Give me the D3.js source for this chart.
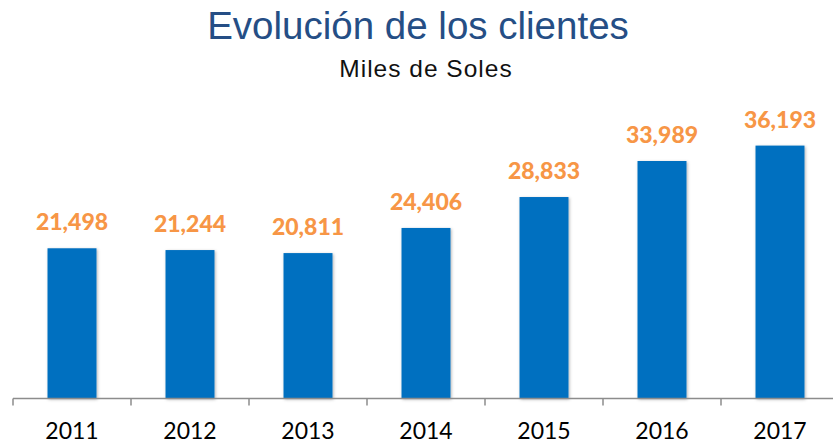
<!DOCTYPE html>
<html>
<head>
<meta charset="utf-8">
<script src="https://cdn.jsdelivr.net/npm/d3@7"></script>
<style>
  body { margin: 0; background: #fff; }
</style>
</head>
<body>
<div id="chart"></div>
<script>
// data
var years = ['2011', '2012', '2013', '2014', '2015', '2016', '2017'];
var clients = [21498, 21244, 20811, 24406, 28833, 33989, 36193];

var width = 833;
var height = 444;
var barColor = '#0070c0';
var labelColor = '#f79646';

var svg = d3.select('#chart').append('svg')
    .attr('width', width)
    .attr('height', height);

var defs = svg.append('defs');
var shadow = defs.append('filter').attr('id', 'shadow')
    .attr('x', '-20%').attr('y', '-20%').attr('width', '140%').attr('height', '140%');
shadow.append('feDropShadow')
    .attr('dx', 1).attr('dy', 1).attr('stdDeviation', 1.5)
    .attr('flood-color', '#000').attr('flood-opacity', 0.3);

// band scale runs past the right edge, as in the original
var x = d3.scaleBand()
    .domain(years)
    .range([13, 839])
    .paddingInner(0.585)
    .paddingOuter(0.2925);

var y = d3.scaleLinear()
    .domain([0, 40000])
    .range([398.5, 119]);

// title
svg.append('text')
    .attr('x', 418)
    .attr('y', 39)
    .attr('text-anchor', 'middle')
    .attr('font-family', 'Liberation Sans, Arial, sans-serif')
    .attr('font-size', '38.5px')
    .attr('fill', '#254e85')
    .text('Evolución de los clientes');

svg.append('text')
    .attr('x', 426)
    .attr('y', 77)
    .attr('text-anchor', 'middle')
    .attr('font-family', 'Liberation Sans, Arial, sans-serif')
    .attr('font-size', '24.5px')
    .attr('letter-spacing', '1px')
    .attr('fill', '#111')
    .text('Miles de Soles');

var data = years.map(function(d, i) { return {year: d, value: clients[i]}; });

svg.selectAll('.bar')
    .data(data)
    .enter()
    .append('rect')
    .attr('class', 'bar')
    .attr('x', function(d) { return x(d.year); })
    .attr('y', function(d) { return y(d.value); })
    .attr('width', x.bandwidth())
    .attr('height', function(d) { return y(0) - y(d.value); })
    .attr('fill', barColor)
    .attr('filter', 'url(#shadow)');

svg.selectAll('.label')
    .data(data)
    .enter()
    .append('text')
    .attr('class', 'label')
    .attr('x', function(d) { return x(d.year) + x.bandwidth() / 2; })
    .attr('y', function(d) { return y(d.value) - 18; })
    .attr('text-anchor', 'middle')
    .attr('font-family', 'Lato, sans-serif')
    .attr('font-weight', 900)
    .attr('font-size', '23px')
    .attr('fill', labelColor)
    .text(function(d) { return d3.format(',')(d.value); });

// x axis with outer ticks between categories
var axis = svg.append('g')
    .attr('transform', 'translate(0,' + 398.5 + ')');

axis.append('line')
    .attr('x1', 13).attr('x2', 839)
    .attr('stroke', '#8c8c8c').attr('stroke-width', 1.5);

var tickPos = d3.range(years.length + 1).map(function(i) { return 13 + i * x.step(); });
axis.selectAll('.tick')
    .data(tickPos)
    .enter()
    .append('line')
    .attr('x1', function(d) { return d; })
    .attr('x2', function(d) { return d; })
    .attr('y1', 0).attr('y2', 7)
    .attr('stroke', '#8c8c8c').attr('stroke-width', 1.5);

axis.selectAll('.year')
    .data(years)
    .enter()
    .append('text')
    .attr('x', function(d) { return x(d) + x.bandwidth() / 2; })
    .attr('y', 40.5)
    .attr('text-anchor', 'middle')
    .attr('font-family', 'Lato, sans-serif')
    .attr('font-size', '23px')
    .attr('fill', '#000')
    .text(function(d) { return d; });
</script>
</body>
</html>
